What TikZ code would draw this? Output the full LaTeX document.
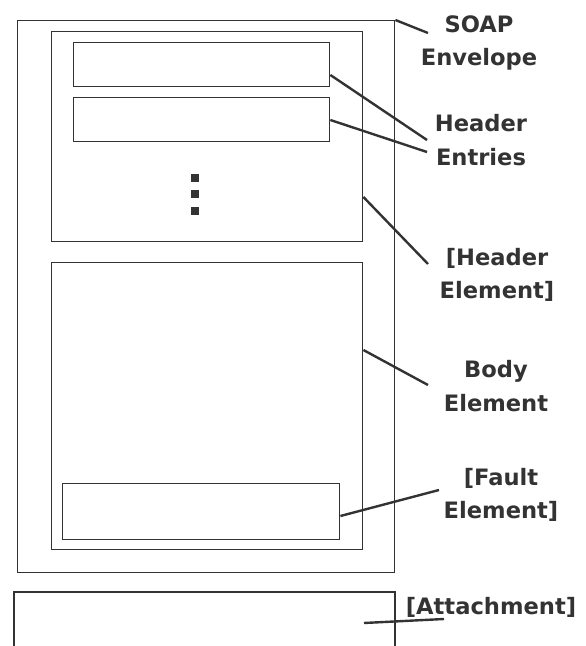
\documentclass[tikz,border=0pt]{standalone}
\usepackage{fontspec}
\setmainfont{DejaVu Sans}
\definecolor{ink}{HTML}{333333}
\begin{document}
\begin{tikzpicture}[x=1pt,y=-1pt,
  box/.style={draw=ink,line width=1.4pt,inner sep=0pt,anchor=north west},
  conn/.style={draw=ink,line width=2.4pt},
  lbl/.style={text=ink,font=\fontsize{22.6}{33.5}\selectfont\bfseries,align=center,inner sep=0pt},
  dot/.style={fill=ink,minimum size=8pt,inner sep=0pt}]
\useasboundingbox (0,0) rectangle (586,646);
% boxes
\node[box,minimum width=377pt,minimum height=552pt] (env) at (17,20) {};
\node[box,minimum width=311pt,minimum height=210pt] (hdr) at (51,31) {};
\node[box,minimum width=256pt,minimum height=44pt] (e1) at (73,42) {};
\node[box,minimum width=256pt,minimum height=44pt] (e2) at (73,97) {};
\node[box,minimum width=311pt,minimum height=287pt] (body) at (51,262) {};
\node[box,minimum width=277pt,minimum height=56pt] (fault) at (62,483) {};
\draw[ink,line width=1.4pt] (14,650) -- (14,592) -- (395,592) -- (395,650);
% dots
\node[dot] (d1) at (195,178) {};
\node[dot] (d2) at (195,194) {};
\node[dot] (d3) at (195,211) {};
% labels
\node[lbl] (lenv) at (479,43) {SOAP\\Envelope};
\node[lbl] (lent) at (481,140) {Header\\Entries};
\node[lbl] (lhdr) at (497,275) {[Header\\Element]};
\node[lbl] (lbody) at (496,386) {Body\\Element};
\node[lbl] (lfault) at (501,495) {[Fault\\Element]};
\node[lbl] (latt) at (491,607) {[Attachment]};
% connector end points
\coordinate (cenv) at (428,33);
\coordinate (cent1) at (427,140);
\coordinate (cent2) at (427,152);
\coordinate (chdr) at (428,264);
\coordinate (cbody) at (428,385);
\coordinate (cfault) at (439,490);
\coordinate (catt) at (444,619);
\coordinate (aatt) at (364,623);
% connectors
\draw[conn] (env.north east) -- (cenv);
\draw[conn] ([yshift=-33pt]e1.north east) -- (cent1);
\draw[conn] ([yshift=-23pt]e2.north east) -- (cent2);
\draw[conn] ([yshift=-166pt]hdr.north east) -- (chdr);
\draw[conn] ([yshift=-88pt]body.north east) -- (cbody);
\draw[conn] ([yshift=-33pt]fault.north east) -- (cfault);
\draw[conn] (aatt) -- (catt);
\end{tikzpicture}
\end{document}
